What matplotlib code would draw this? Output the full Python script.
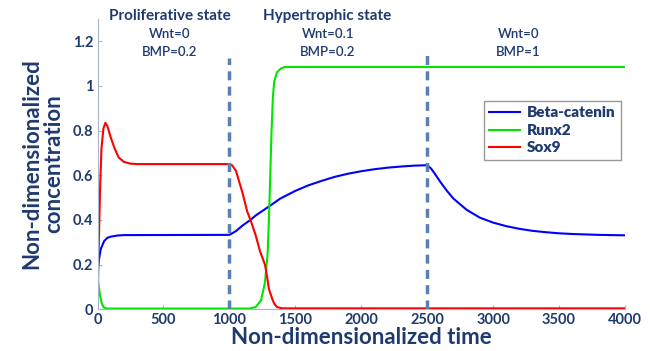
import numpy as np
import matplotlib.pyplot as plt
from matplotlib.font_manager import FontProperties

plt.rcParams['font.family'] = ['Lato', 'DejaVu Sans']

NAVY = "#1f3a6e"

# Beta-catenin
t_beta = [0, 10, 25, 50, 75, 100, 150, 200, 1000, 1050, 1100, 1160, 1200, 1300, 1384, 1500,
          1600, 1700, 1800, 1900, 2000, 2100, 2200, 2300, 2400, 2500, 2530, 2560, 2600,
          2650, 2700, 2800, 2900, 3000, 3100, 3200, 3300, 3400, 3500, 3600, 3700, 3800, 4000]
beta = [0.17, 0.22, 0.27, 0.305, 0.32, 0.325, 0.33, 0.332, 0.333, 0.35, 0.375, 0.40, 0.42,
        0.46, 0.495, 0.53, 0.555, 0.575, 0.593, 0.607, 0.618, 0.627, 0.634, 0.639, 0.643,
        0.645, 0.63, 0.605, 0.57, 0.53, 0.495, 0.445, 0.41, 0.388, 0.372, 0.36, 0.351,
        0.345, 0.34, 0.337, 0.335, 0.333, 0.331]

# Runx2
t_runx = [0, 10, 20, 30, 45, 60, 80, 100, 1150, 1200, 1240, 1270, 1290, 1300, 1310,
          1320, 1330, 1340, 1360, 1390, 1420, 4000]
runx = [0.15, 0.1, 0.06, 0.03, 0.01, 0.005, 0.003, 0.003, 0.003, 0.01, 0.04, 0.12, 0.25,
        0.4, 0.6, 0.8, 0.95, 1.02, 1.06, 1.078, 1.085, 1.085]

# Sox9
t_sox = [0, 10, 20, 30, 45, 60, 75, 100, 130, 160, 200, 250, 300, 1000, 1020, 1050, 1100,
         1134, 1160, 1200, 1232, 1270, 1290, 1300, 1323, 1340, 1360, 1400, 4000]
sox = [0, 0.3, 0.55, 0.72, 0.81, 0.835, 0.82, 0.77, 0.72, 0.68, 0.66, 0.652, 0.65, 0.65,
       0.645, 0.62, 0.52, 0.44, 0.40, 0.33, 0.26, 0.2, 0.13, 0.09, 0.05, 0.025, 0.01,
       0.004, 0.004]

phase_t = [1000, 2500]
phase_top = [1.126, 1.146]

states = ["Proliferative state", "Hypertrophic state", ""]
state_x = [547, 1745, 3192]
wnt = ["Wnt=0", "Wnt=0.1", "Wnt=0"]
bmp = ["BMP=0.2", "BMP=0.2", "BMP=1"]

fig = plt.figure(figsize=(6.5, 3.51), dpi=100)
ax = fig.add_axes([0.150, 0.119, 0.8115, 0.827])

ax.plot(t_beta, beta, color="#0000ff", lw=1.5, label="Beta-catenin")
ax.plot(t_runx, runx, color="#00e600", lw=1.5, label="Runx2")
ax.plot(t_sox, sox, color="#ff0000", lw=1.5, label="Sox9")

for x, top in zip(phase_t, phase_top):
    ax.plot([x, x], [0, top], color="#5b7fb2", lw=2.5, dashes=(2.6, 1.8))

ax.set_xlim(0, 4000)
ax.set_ylim(0, 1.3)
ax.set_xticks(np.arange(0, 4001, 500))
ax.set_yticks([0, 0.2, 0.4, 0.6, 0.8, 1, 1.2])
ax.set_yticklabels(["0", "0.2", "0.4", "0.6", "0.8", "1", "1.2"])

for s in ["top", "right"]:
    ax.spines[s].set_visible(False)
for s in ["left", "bottom"]:
    ax.spines[s].set_color("#a8b4cc")
ax.tick_params(direction="in", length=3, color="#a8b4cc", labelcolor=NAVY, labelsize=10.5)
ax.tick_params(axis="y", pad=3)
ax.tick_params(axis="x", pad=3)
for lab in ax.get_xticklabels() + ax.get_yticklabels():
    lab.set_fontweight("bold")

ax.set_xlabel("Non-dimensionalized time", fontsize=16, fontweight="bold", color=NAVY, labelpad=0)
ax.set_ylabel("Non-dimensionalized\nconcentration", fontsize=16, fontweight="bold",
              color=NAVY, labelpad=6, linespacing=1.05)

for i in range(3):
    if states[i]:
        ax.text(state_x[i], 1.312, states[i], ha="center", va="center", fontsize=11,
                fontweight="bold", color=NAVY, clip_on=False)
    ax.text(state_x[i], 1.231, wnt[i], ha="center", va="center", fontsize=9.5,
            fontweight="semibold", color=NAVY, clip_on=False)
    ax.text(state_x[i], 1.154, bmp[i], ha="center", va="center", fontsize=9.5,
            fontweight="semibold", color=NAVY, clip_on=False)

leg_font = FontProperties(family="Lato", weight="heavy", size=11)
leg = ax.legend(loc="upper left", bbox_to_anchor=(0.7326, 0.7175), borderaxespad=0,
                fancybox=False, framealpha=1, edgecolor="#999999", handlelength=2.0,
                prop=leg_font, labelspacing=0.3, borderpad=0.35, handletextpad=0.45)
leg.get_frame().set_linewidth(1.0)
for txt in leg.get_texts():
    txt.set_color(NAVY)

fig.savefig("out.png", dpi=100)
